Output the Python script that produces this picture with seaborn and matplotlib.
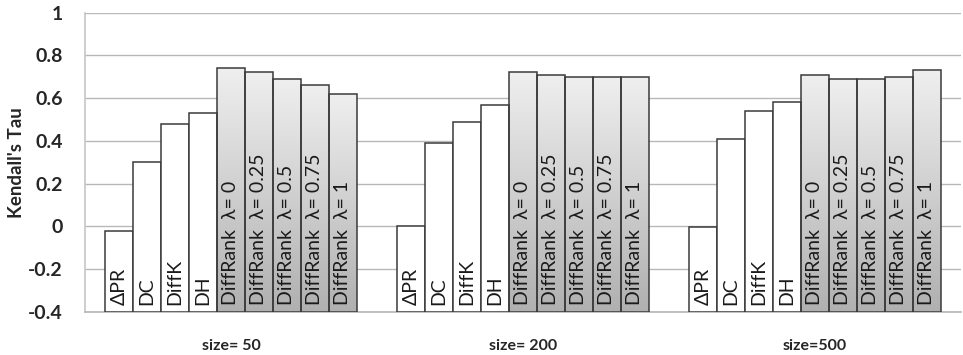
import numpy as np
import pandas as pd
import matplotlib
matplotlib.use("Agg")
import matplotlib.pyplot as plt
import seaborn as sns
from matplotlib.colors import LinearSegmentedColormap

# ---- data ----
sizes = ["size= 50", "size= 200", "size=500"]
methods = ["ΔPR", "DC", "DiffK", "DH",
           "DiffRank  λ= 0", "DiffRank  λ= 0.25", "DiffRank  λ= 0.5",
           "DiffRank  λ= 0.75", "DiffRank  λ= 1"]
tau_50 = [-0.02, 0.30, 0.48, 0.53, 0.74, 0.72, 0.69, 0.66, 0.62]
tau_200 = [0.00, 0.39, 0.49, 0.57, 0.72, 0.71, 0.70, 0.70, 0.70]
tau_500 = [-0.005, 0.41, 0.54, 0.58, 0.71, 0.69, 0.69, 0.70, 0.73]
y_ticks = [-0.4, -0.2, 0, 0.2, 0.4, 0.6, 0.8, 1]
y_tick_labels = ["-0.4", "-0.2", "0", "0.2", "0.4", "0.6", "0.8", "1"]
baseline = -0.4

rows = []
for s, vals in zip(sizes, [tau_50, tau_200, tau_500]):
    for m, v in zip(methods, vals):
        rows.append({"size": s, "method": m, "tau": v})
df = pd.DataFrame(rows)

sns.set_theme(style="white")
plt.rcParams["font.family"] = ["Lato", "DejaVu Sans"]

fig = plt.figure(figsize=(9.63, 3.55), dpi=100)
ax = fig.add_axes([85 / 963, 43.3 / 355, 876 / 963, 299 / 355])

palette = {m: "white" for m in methods}
sns.barplot(data=df, x="size", y="tau", hue="method", order=sizes,
            hue_order=methods, palette=palette, width=0.863, gap=0,
            edgecolor="#3a3a3a", linewidth=1.1, legend=False, ax=ax,
            errorbar=None, saturation=1)

cmap = LinearSegmentedColormap.from_list("g", ["#b0b0b0", "#efefef"])
grad = np.linspace(0, 1, 256).reshape(-1, 1)

for mi, cont in enumerate(ax.containers):
    for bar in cont:
        v = bar.get_y() + bar.get_height()
        bar.set_y(baseline)
        bar.set_height(v - baseline)
        bar.set_zorder(3)
        x0 = bar.get_x()
        w = bar.get_width()
        if mi >= 4:
            bar.set_facecolor("none")
            im = ax.imshow(grad, cmap=cmap, origin="lower", aspect="auto",
                           extent=[x0, x0 + w, baseline, v], zorder=2.5,
                           interpolation="bilinear")
            im.set_clip_path(bar)
        ax.text(x0 + w / 2, baseline + 0.03, methods[mi], rotation=90,
                ha="center", va="bottom", fontsize=14, color="#1a1a1a",
                zorder=4)

ax.set_xlim(-0.5, 2.5)
ax.set_ylim(-0.4, 1.0)
ax.set_yticks(y_ticks)
ax.set_yticklabels(y_tick_labels, fontsize=14, fontweight="bold")
ax.tick_params(axis="y", length=0, pad=16)
ax.tick_params(axis="x", length=0, pad=20)
ax.set_xticks(range(len(sizes)))
ax.set_xticklabels(sizes, fontsize=11.5, fontweight="bold")
ax.set_xlabel("")
ax.set_ylabel("Kendall's Tau", fontsize=13.5, fontweight="bold", labelpad=2)
ax.yaxis.grid(True, color="#b8b8b8", linewidth=1.0)
ax.set_axisbelow(True)
for s in ["top", "right"]:
    ax.spines[s].set_visible(False)
ax.spines["left"].set_color("#c8c8c8")
ax.spines["bottom"].set_color("#b8b8b8")

fig.savefig("out.png", dpi=100)
